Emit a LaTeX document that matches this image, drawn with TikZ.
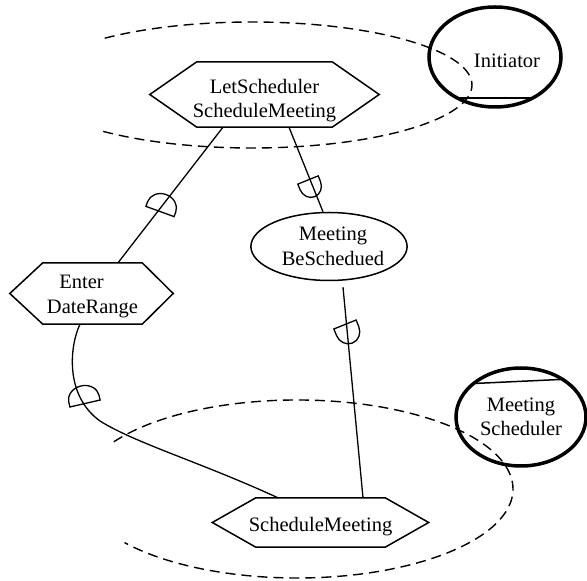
\documentclass[tikz,border=0pt]{standalone}
\usepackage{fontspec}
\setmainfont{Liberation Serif}
\usetikzlibrary{shapes.geometric,calc}
\begin{document}
\begin{tikzpicture}[x=1pt,y=1pt,
  every node/.style={font=\fontsize{20.5}{24.5}\selectfont, inner sep=0pt, align=center},
  taskbox/.style n args={2}{rectangle, minimum width=#1, minimum height=#2},
  hexline/.style={line width=1.5pt, line join=miter},
  goalbox/.style={ellipse, draw, line width=1.5pt, minimum width=146pt, minimum height=68pt},
  actor/.style={ellipse, draw, line width=3.5pt},
  link/.style={line width=1.3pt},
  boundary/.style={dash pattern=on 10pt off 6pt, line width=1.4pt},
  pics/dmark/.style n args={3}{code={
    \draw[line width=1.3pt] (-#1,0) -- (#1,0) -- (#1,#2)
      arc[start angle=0, end angle=180, x radius=#1, y radius=#3] -- cycle;}}
]
\useasboundingbox (0,0) rectangle (587,581);

% actor boundaries
\draw[boundary] (252,496) ++(132:220 and 63)
  arc[start angle=132, end angle=-133, x radius=220, y radius=63];
\draw[boundary] (297,92) ++(148:216 and 89)
  arc[start angle=148, end angle=-143, x radius=216, y radius=89];

% actors
\node[actor, minimum width=132pt, minimum height=100pt,
      label={[shift={(12pt,-4pt)}]center:Initiator}] (ini) at (495,524) {};
\draw[line width=1.5pt] ($(ini.center)+(-36,-41)$) -- ($(ini.center)+(38,-41)$);

\node[actor, minimum width=130pt, minimum height=98pt] (msch) at (521,164) {Meeting\\Scheduler};
\draw[line width=1.5pt] ($(msch.center)+(-47,33.5)$) -- ($(msch.center)+(41,37.6)$);

% tasks
\node[taskbox={135pt}{65pt}, label={[yshift=-6pt]center:LetScheduler\\ScheduleMeeting}]
  (h1) at (264.5,486.5) {};
\draw[hexline] (h1.north west) -- (h1.north east) -- ([xshift=47pt]h1.east)
  -- (h1.south east) -- (h1.south west) -- ([xshift=-47pt]h1.west) -- cycle;

\node[taskbox={99pt}{61pt}, label={[yshift=-3pt]center:Enter\hspace*{22pt}\\DateRange}]
  (h2) at (92.5,287.5) {};
\draw[hexline] (h2.north west) -- (h2.north east) -- ([xshift=31pt]h2.east)
  -- (h2.south east) -- (h2.south west) -- ([xshift=-33pt]h2.west) -- cycle;

\node[taskbox={129pt}{49pt}, label={[yshift=-4pt]center:ScheduleMeeting}]
  (h3) at (320.5,58.5) {};
\draw[hexline] (h3.north west) -- (h3.north east) -- ([xshift=43.5pt]h3.east)
  -- (h3.south east) -- (h3.south west) -- ([xshift=-43.5pt]h3.west) -- cycle;

% goal
\node[goalbox] (mbs) at (329,334.5) {\hspace*{8pt}Meeting\\\hspace*{8pt}BeSchedued};

% dependency links
\draw[link] ($(h1.south)+(-41.5,0)$) -- ($(h2.north)+(25.5,0)$);
\draw[link] ($(h1.south)+(24.5,0)$) -- ($(mbs.north)+(-6,0)$);
\draw[link] ($(mbs.south)+(14,-6)$) -- ($(h3.north)+(42.5,0)$);
\draw[link] ($(h2.south)+(-12.5,0)$) .. controls (70,236) and (64,186) .. (100,160)
  .. controls (135,138) and (200,119) .. ($(h3.north)+(-42.5,0)$);

% dependency marks
\pic[rotate=-20] at (160,369.5) {dmark={15}{5}{13}};
\pic[rotate=202] at (308,401) {dmark={11}{6}{12}};
\pic[rotate=202] at (345,256.5) {dmark={12}{7}{13}};
\pic[rotate=13] at (85,177.5) {dmark={15.5}{5}{13}};
\end{tikzpicture}
\end{document}
